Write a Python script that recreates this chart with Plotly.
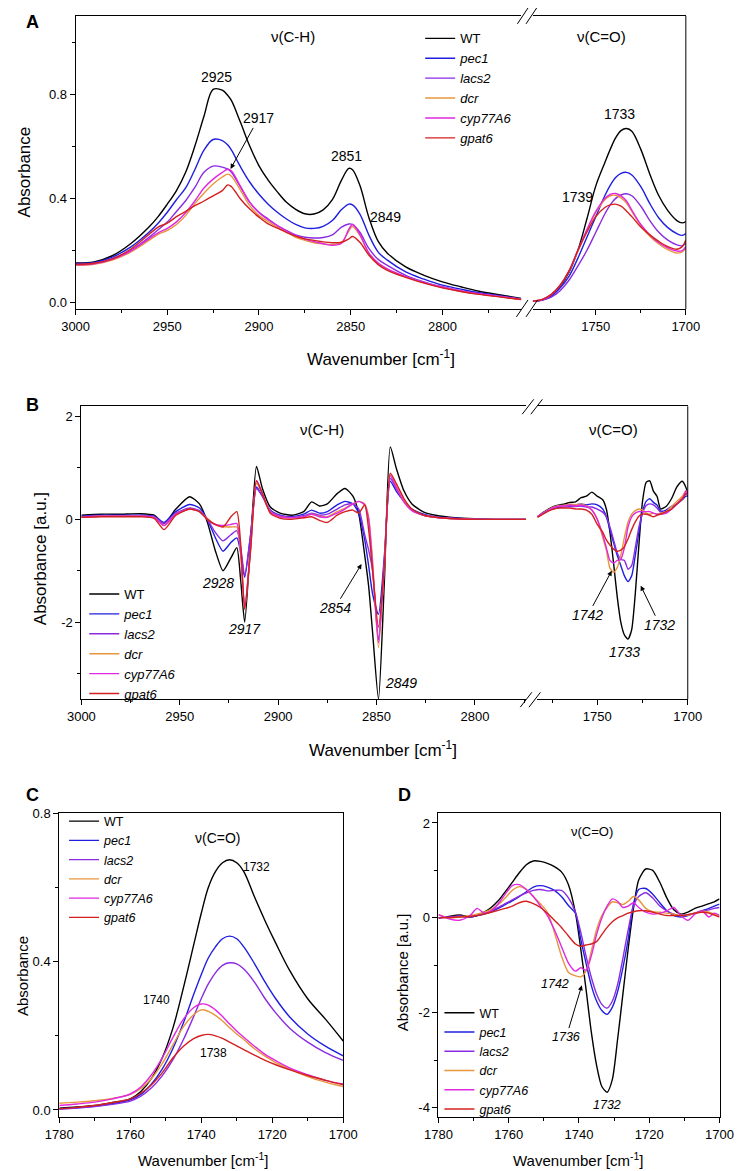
import plotly.graph_objects as go

W, H = 747, 1171
FONT = "Arial, 'Liberation Sans', sans-serif"

GENOTYPES = ["WT", "pec1", "lacs2", "dcr", "cyp77A6", "gpat6"]
LEGEND_LABELS = ["WT", "<i>pec1</i>", "<i>lacs2</i>", "<i>dcr</i>", "<i>cyp77A6</i>", "<i>gpat6</i>"]
COLORS = ["#000000", "#1f1fe0", "#8a2be2", "#e8963c", "#e028e0", "#d42020"]

# ---------------- Panel A : absorbance, C-H region ----------------
A_CH_X = [3000, 2990, 2980, 2970, 2960, 2955, 2950, 2945, 2940, 2935,
          2930, 2925, 2920, 2917, 2915, 2910, 2905, 2900, 2895, 2890,
          2885, 2880, 2875, 2870, 2865, 2860, 2855, 2851, 2849, 2845,
          2840, 2835, 2830, 2820, 2810, 2800, 2790, 2780, 2770, 2757]
A_CH_WT = [0.152, 0.156, 0.18, 0.226, 0.29, 0.33, 0.378, 0.43, 0.5, 0.6,
           0.715, 0.818, 0.815, 0.795, 0.775, 0.69, 0.6, 0.525, 0.47, 0.425,
           0.385, 0.358, 0.341, 0.34, 0.356, 0.395, 0.47, 0.515, 0.51, 0.45,
           0.325, 0.235, 0.19, 0.137, 0.105, 0.08, 0.061, 0.044, 0.032, 0.016]
A_CH_PEC1 = [0.15, 0.154, 0.175, 0.213, 0.27, 0.305, 0.347, 0.395, 0.44, 0.51,
             0.585, 0.626, 0.622, 0.605, 0.585, 0.52, 0.462, 0.416, 0.378, 0.347,
             0.321, 0.30, 0.287, 0.285, 0.293, 0.315, 0.357, 0.378, 0.375, 0.34,
             0.258, 0.194, 0.163, 0.118, 0.09, 0.067, 0.052, 0.038, 0.028, 0.014]
A_CH_LACS2 = [0.147, 0.151, 0.169, 0.2, 0.251, 0.28, 0.309, 0.35, 0.391, 0.442,
              0.50, 0.524, 0.52, 0.512, 0.5, 0.442, 0.385, 0.347, 0.321, 0.296,
              0.277, 0.26, 0.251, 0.248, 0.25, 0.26, 0.29, 0.302, 0.30, 0.27,
              0.207, 0.166, 0.143, 0.105, 0.08, 0.061, 0.046, 0.034, 0.025, 0.013]
A_CH_DCR = [0.143, 0.147, 0.163, 0.194, 0.239, 0.262, 0.277, 0.30, 0.334, 0.38,
            0.42, 0.455, 0.482, 0.493, 0.485, 0.43, 0.372, 0.334, 0.311, 0.29,
            0.27, 0.251, 0.239, 0.23, 0.226, 0.223, 0.232, 0.275, 0.292, 0.258,
            0.188, 0.15, 0.128, 0.099, 0.076, 0.058, 0.044, 0.033, 0.024, 0.012]
A_CH_CYP = [0.145, 0.149, 0.166, 0.198, 0.245, 0.268, 0.285, 0.31, 0.345, 0.39,
            0.44, 0.474, 0.5, 0.512, 0.505, 0.445, 0.385, 0.345, 0.318, 0.295,
            0.275, 0.257, 0.244, 0.234, 0.226, 0.22, 0.228, 0.282, 0.30, 0.262,
            0.19, 0.152, 0.13, 0.1, 0.077, 0.059, 0.045, 0.034, 0.025, 0.013]
A_CH_GPAT6 = [0.147, 0.151, 0.168, 0.205, 0.262, 0.29, 0.305, 0.33, 0.35, 0.372,
              0.39, 0.41, 0.43, 0.452, 0.445, 0.397, 0.359, 0.328, 0.302, 0.286,
              0.27, 0.255, 0.245, 0.239, 0.233, 0.23, 0.232, 0.245, 0.254, 0.232,
              0.182, 0.146, 0.124, 0.097, 0.075, 0.057, 0.043, 0.032, 0.023, 0.012]

# ---------------- Panel A : absorbance, C=O region ----------------
A_CO_X = [1785, 1780, 1775, 1770, 1765, 1760, 1755, 1750, 1745, 1742,
          1739, 1736, 1733, 1730, 1725, 1720, 1715, 1710, 1705, 1702, 1700]
A_CO_WT = [0.005, 0.01, 0.025, 0.06, 0.115, 0.2, 0.32, 0.448, 0.537, 0.588,
           0.632, 0.66, 0.668, 0.658, 0.588, 0.493, 0.41, 0.353, 0.315, 0.306, 0.311]
A_CO_PEC1 = [0.005, 0.01, 0.024, 0.055, 0.1, 0.17, 0.25, 0.33, 0.41, 0.45,
             0.48, 0.496, 0.5, 0.49, 0.445, 0.38, 0.325, 0.288, 0.265, 0.258, 0.265]
A_CO_LACS2 = [0.005, 0.009, 0.02, 0.045, 0.085, 0.14, 0.2, 0.27, 0.34, 0.375,
              0.4, 0.413, 0.418, 0.41, 0.37, 0.315, 0.27, 0.24, 0.222, 0.218, 0.228]
A_CO_DCR = [0.006, 0.012, 0.03, 0.065, 0.12, 0.195, 0.275, 0.345, 0.395, 0.41,
            0.412, 0.402, 0.382, 0.35, 0.295, 0.255, 0.225, 0.203, 0.19, 0.195, 0.21]
A_CO_CYP = [0.006, 0.012, 0.03, 0.065, 0.12, 0.2, 0.28, 0.35, 0.4, 0.415,
            0.419, 0.41, 0.39, 0.355, 0.3, 0.26, 0.23, 0.21, 0.198, 0.2, 0.215]
A_CO_GPAT6 = [0.006, 0.012, 0.03, 0.065, 0.12, 0.2, 0.27, 0.33, 0.365, 0.375,
              0.378, 0.37, 0.352, 0.33, 0.29, 0.26, 0.235, 0.215, 0.205, 0.215, 0.24]

# ---------------- Panel B : 2nd derivative, C-H region ----------------
B_CH_X = [3000, 2990, 2980, 2970, 2963, 2958, 2952, 2945, 2940, 2936,
          2932, 2928, 2924, 2921, 2919, 2917, 2914, 2911, 2908, 2904,
          2899, 2893, 2887, 2883, 2879, 2875, 2870, 2866, 2862, 2859,
          2856, 2854, 2852, 2849, 2846, 2843, 2840, 2836, 2832, 2826,
          2820, 2810, 2800, 2790, 2774]
B_CH_WT = [0.08, 0.1, 0.1, 0.11, 0.08, -0.08, 0.2, 0.44, 0.3, -0.05,
           -0.6, -1.0, -0.75, -0.55, -1.2, -2.0, -0.45, 1.03, 0.6, 0.24,
           0.12, 0.08, 0.15, 0.34, 0.26, 0.3, 0.5, 0.6, 0.45, 0.1,
           -0.7, -1.3, -2.2, -3.5, -1.2, 1.41, 1.0, 0.55, 0.3, 0.14,
           0.08, 0.03, 0.01, 0.0, 0.0]
B_CH_PEC1 = [0.06, 0.08, 0.08, 0.08, 0.06, -0.06, 0.15, 0.29, 0.22, 0.0,
             -0.35, -0.62, -0.45, -0.36, -0.65, -1.13, -0.3, 0.63, 0.45, 0.18,
             0.08, 0.05, 0.1, 0.18, 0.12, 0.15, 0.28, 0.35, 0.3, 0.12,
             -0.4, -0.9, -1.45, -1.85, -0.7, 0.74, 0.55, 0.35, 0.2, 0.1,
             0.05, 0.02, 0.005, 0.0, 0.0]
B_CH_LACS2 = [0.05, 0.07, 0.07, 0.07, 0.05, -0.08, 0.12, 0.22, 0.17, 0.0,
              -0.25, -0.42, -0.3, -0.22, -0.55, -1.1, -0.3, 0.6, 0.45, 0.16,
              0.07, 0.04, 0.07, 0.12, 0.08, 0.1, 0.2, 0.28, 0.3, 0.2,
              -0.3, -0.6, -1.0, -2.35, -0.8, 0.8, 0.6, 0.35, 0.18, 0.08,
              0.04, 0.015, 0.005, 0.0, 0.0]
B_CH_DCR = [0.04, 0.06, 0.06, 0.06, 0.04, -0.12, 0.1, 0.2, 0.15, 0.02,
            -0.1, -0.14, -0.15, -0.15, -0.7, -1.75, -0.6, 0.7, 0.5, 0.15,
            0.05, 0.03, 0.05, 0.1, 0.06, 0.05, 0.15, 0.22, 0.3, 0.35,
            0.3, 0.05, -0.8, -2.5, -0.9, 0.88, 0.65, 0.35, 0.18, 0.08,
            0.04, 0.01, 0.0, 0.0, 0.0]
B_CH_CYP = [0.04, 0.06, 0.06, 0.06, 0.04, -0.12, 0.1, 0.2, 0.15, 0.0,
            -0.1, -0.12, -0.1, -0.08, -0.65, -1.72, -0.55, 0.75, 0.5, 0.15,
            0.05, 0.03, 0.05, 0.1, 0.05, 0.04, 0.12, 0.2, 0.3, 0.35,
            0.28, 0.0, -0.9, -2.4, -0.9, 0.85, 0.62, 0.33, 0.17, 0.08,
            0.04, 0.01, 0.0, 0.0, 0.0]
B_CH_GPAT6 = [0.04, 0.05, 0.05, 0.05, 0.02, -0.2, 0.08, 0.2, 0.15, 0.0,
              -0.1, -0.15, 0.05, 0.15, -0.5, -1.75, -0.6, 0.75, 0.5, 0.12,
              0.02, 0.0, 0.03, 0.05, -0.02, -0.06, 0.08, 0.15, 0.18, 0.12,
              0.28, -0.2, -1.0, -2.1, -0.9, 0.9, 0.7, 0.4, 0.2, 0.08,
              0.04, 0.01, 0.0, 0.0, 0.0]

# ---------------- Panel B : 2nd derivative, C=O region ----------------
B_CO_X = [1783, 1780, 1777, 1774, 1771, 1768, 1765, 1762, 1759, 1756,
          1753, 1750, 1747, 1745, 1743, 1741, 1739, 1737, 1735, 1733,
          1731, 1729, 1727, 1725, 1723, 1721, 1719, 1717, 1715, 1712,
          1709, 1706, 1703, 1701, 1700]
B_CO_WT = [0.05, 0.13, 0.2, 0.25, 0.28, 0.3, 0.33, 0.34, 0.42, 0.45,
           0.53, 0.45, 0.38, 0.2, -0.25, -0.85, -1.5, -2.0, -2.25, -2.33,
           -2.15, -1.45, -0.5, 0.35, 0.72, 0.75, 0.55, 0.45, 0.2, 0.25,
           0.4, 0.63, 0.74, 0.62, 0.5]
B_CO_PEC1 = [0.05, 0.12, 0.18, 0.23, 0.26, 0.27, 0.28, 0.28, 0.3, 0.28,
             0.3, 0.28, 0.2, 0.05, -0.2, -0.45, -0.7, -0.9, -1.1, -1.21,
             -1.1, -0.7, -0.25, 0.15, 0.35, 0.4, 0.33, 0.28, 0.16, 0.18,
             0.25, 0.3, 0.38, 0.45, 0.45]
B_CO_LACS2 = [0.05, 0.11, 0.17, 0.21, 0.23, 0.24, 0.25, 0.25, 0.26, 0.24,
              0.24, 0.2, 0.14, 0.05, -0.15, -0.4, -0.65, -0.78, -0.8, -0.97,
              -0.9, -0.55, -0.15, 0.12, 0.27, 0.3, 0.28, 0.22, 0.14, 0.12,
              0.2, 0.3, 0.4, 0.5, 0.45]
B_CO_DCR = [0.05, 0.12, 0.19, 0.24, 0.27, 0.27, 0.3, 0.28, 0.3, 0.26,
            0.18, 0.0, -0.35, -0.6, -0.95, -1.03, -0.94, -0.7, -0.35, -0.05,
            0.1, 0.17, 0.2, 0.18, 0.12, 0.1, 0.12, 0.1, 0.12, 0.15,
            0.25, 0.35, 0.45, 0.55, 0.5]
B_CO_CYP = [0.05, 0.12, 0.18, 0.23, 0.26, 0.26, 0.28, 0.26, 0.28, 0.25,
            0.18, 0.0, -0.3, -0.55, -0.8, -0.85, -0.8, -0.78, -0.55, -0.15,
            0.05, 0.12, 0.15, 0.15, 0.15, 0.15, 0.12, 0.1, 0.1, 0.12,
            0.2, 0.3, 0.4, 0.55, 0.5]
B_CO_GPAT6 = [0.04, 0.1, 0.16, 0.2, 0.22, 0.22, 0.22, 0.2, 0.2, 0.18,
              0.1, -0.1, -0.25, -0.4, -0.5, -0.58, -0.62, -0.6, -0.53, -0.38,
              -0.2, -0.05, 0.06, 0.1, 0.1, 0.08, 0.05, 0.08, 0.1, 0.15,
              0.2, 0.3, 0.4, 0.5, 0.5]

# ---------------- Panel C : absorbance, C=O zoom ----------------
C_X = [1780, 1775, 1770, 1765, 1760, 1757, 1754, 1751, 1748, 1745,
       1742, 1740, 1738, 1736, 1734, 1732, 1730, 1728, 1725, 1722,
       1719, 1715, 1710, 1705, 1700]
C_WT = [0.005, 0.008, 0.012, 0.02, 0.03, 0.05, 0.085, 0.14, 0.22, 0.33,
        0.45, 0.53, 0.6, 0.643, 0.667, 0.675, 0.667, 0.643, 0.575, 0.51,
        0.45, 0.375, 0.3, 0.245, 0.186]
C_PEC1 = [0.003, 0.006, 0.01, 0.017, 0.027, 0.042, 0.07, 0.11, 0.165, 0.235,
          0.315, 0.365, 0.41, 0.44, 0.462, 0.469, 0.462, 0.44, 0.395, 0.345,
          0.3, 0.25, 0.205, 0.172, 0.146]
C_LACS2 = [0.002, 0.005, 0.009, 0.015, 0.024, 0.037, 0.06, 0.092, 0.135, 0.19,
           0.255, 0.3, 0.34, 0.37, 0.39, 0.397, 0.394, 0.38, 0.345, 0.3,
           0.262, 0.22, 0.183, 0.155, 0.134]
C_DCR = [0.018, 0.021, 0.025, 0.031, 0.042, 0.058, 0.085, 0.125, 0.175, 0.225,
         0.258, 0.27, 0.266, 0.255, 0.24, 0.222, 0.205, 0.19, 0.165, 0.145,
         0.128, 0.11, 0.09, 0.075, 0.063]
C_CYP = [0.012, 0.016, 0.021, 0.03, 0.043, 0.062, 0.095, 0.14, 0.195, 0.245,
         0.277, 0.286, 0.283, 0.27, 0.252, 0.232, 0.213, 0.196, 0.172, 0.15,
         0.133, 0.113, 0.095, 0.08, 0.07]
C_GPAT6 = [0.003, 0.007, 0.012, 0.02, 0.03, 0.045, 0.068, 0.1, 0.14, 0.172,
           0.193, 0.201, 0.204, 0.2, 0.193, 0.183, 0.173, 0.163, 0.148, 0.134,
           0.122, 0.108, 0.093, 0.08, 0.068]

# ---------------- Panel D : 2nd derivative, C=O zoom ----------------
D_X = [1780, 1777, 1774, 1771, 1769, 1767, 1765, 1763, 1761, 1759,
       1757, 1755, 1753, 1751, 1749, 1747, 1745, 1743, 1741, 1739.5,
       1738, 1736.5, 1735, 1733.5, 1732, 1730.5, 1729, 1727.5, 1726, 1724.5,
       1723, 1721, 1719, 1717, 1715, 1713, 1711, 1709, 1707, 1705,
       1703, 1701.5, 1700]
D_WT = [0.0, 0.03, 0.06, 0.02, 0.05, 0.12, 0.22, 0.36, 0.55, 0.75,
        0.95, 1.12, 1.2, 1.19, 1.15, 1.08, 0.97, 0.7, 0.1, -0.65,
        -1.5, -2.4, -3.1, -3.55, -3.67, -3.4, -2.55, -1.6, -0.65, 0.2,
        0.8, 1.03, 1.0, 0.75, 0.42, 0.17, 0.08, 0.12, 0.2, 0.25,
        0.3, 0.34, 0.4]
D_PEC1 = [0.0, 0.02, 0.03, 0.02, 0.05, 0.08, 0.13, 0.2, 0.28, 0.36,
          0.45, 0.55, 0.65, 0.68, 0.65, 0.58, 0.45, 0.26, 0.1, -0.45,
          -0.95, -1.42, -1.75, -1.95, -2.03, -1.88, -1.55, -1.05, -0.45, 0.3,
          0.6, 0.62, 0.5, 0.32, 0.15, 0.05, 0.02, 0.05, 0.1, 0.15,
          0.2, 0.25, 0.29]
D_LACS2 = [0.0, 0.02, 0.04, 0.02, 0.06, 0.1, 0.15, 0.22, 0.3, 0.38,
           0.46, 0.53, 0.58, 0.6, 0.57, 0.58, 0.58, 0.42, 0.12, -0.3,
           -0.8, -1.25, -1.6, -1.82, -1.9, -1.75, -1.4, -0.85, -0.25, 0.25,
           0.45, 0.53, 0.42, 0.25, 0.15, 0.08, 0.05, 0.07, 0.1, 0.14,
           0.17, 0.2, 0.22]
D_DCR = [0.07, 0.0, 0.02, 0.05, 0.08, 0.12, 0.18, 0.28, 0.42, 0.58,
         0.66, 0.6, 0.45, 0.3, 0.12, -0.3, -0.8, -1.15, -1.22, -1.24,
         -1.12, -0.7, -0.25, 0.05, 0.22, 0.34, 0.32, 0.28, 0.35, 0.45,
         0.38, 0.2, 0.13, 0.12, 0.1, 0.08, 0.05, 0.06, 0.1, 0.14,
         0.12, 0.08, 0.06]
D_CYP = [0.07, -0.02, -0.05, 0.05, 0.2, 0.1, 0.15, 0.3, 0.5, 0.68,
         0.7, 0.6, 0.45, 0.25, 0.05, -0.25, -0.6, -0.95, -1.12, -1.05,
         -1.1, -0.8, -0.35, 0.0, 0.25, 0.4, 0.35, 0.22, 0.25, 0.32,
         0.22, 0.12, 0.08, 0.1, 0.15, 0.22, 0.05, -0.05, 0.08, 0.15,
         0.02, 0.1, 0.05]
D_GPAT6 = [0.0, 0.01, 0.02, 0.03, 0.05, 0.08, 0.12, 0.16, 0.2, 0.25,
           0.32, 0.35, 0.3, 0.22, 0.1, -0.05, -0.2, -0.38, -0.55, -0.6,
           -0.57, -0.55, -0.5, -0.35, -0.2, -0.08, 0.0, 0.05, 0.1, 0.13,
           0.15, 0.15, 0.12, 0.08, 0.05, 0.05, 0.05, 0.07, 0.1, 0.12,
           0.1, 0.06, 0.02]

# ---------------- tick values / labels ----------------
A_CH_TICKS = [3000, 2950, 2900, 2850, 2800]
A_CH_MINOR = [2975, 2925, 2875, 2825, 2775]
CO_TICKS = [1750, 1700]
CO_MINOR = [1775, 1725]
A_Y_TICKS = [0.0, 0.4, 0.8]
A_Y_LABELS = ["0.0", "0.4", "0.8"]
A_Y_MINOR = [0.2, 0.6, 1.0]
B_Y_TICKS = [-2, 0, 2]
B_Y_LABELS = ["-2", "0", "2"]
B_Y_MINOR = [-3, -1, 1]
CD_X_TICKS = [1780, 1760, 1740, 1720, 1700]
CD_X_MINOR = [1770, 1750, 1730, 1710]
C_Y_TICKS = [0.0, 0.4, 0.8]
C_Y_LABELS = ["0.0", "0.4", "0.8"]
C_Y_MINOR = [0.2, 0.6]
D_Y_TICKS = [-4, -2, 0, 2]
D_Y_LABELS = ["-4", "-2", "0", "2"]
D_Y_MINOR = [-3, -1, 1]


def fx(p):
    return p / W


def fy(p):
    return 1 - p / H


A_CH = [A_CH_WT, A_CH_PEC1, A_CH_LACS2, A_CH_DCR, A_CH_CYP, A_CH_GPAT6]
A_CO = [A_CO_WT, A_CO_PEC1, A_CO_LACS2, A_CO_DCR, A_CO_CYP, A_CO_GPAT6]
B_CH = [B_CH_WT, B_CH_PEC1, B_CH_LACS2, B_CH_DCR, B_CH_CYP, B_CH_GPAT6]
B_CO = [B_CO_WT, B_CO_PEC1, B_CO_LACS2, B_CO_DCR, B_CO_CYP, B_CO_GPAT6]
C_Y = [C_WT, C_PEC1, C_LACS2, C_DCR, C_CYP, C_GPAT6]
D_Y = [D_WT, D_PEC1, D_LACS2, D_DCR, D_CYP, D_GPAT6]

fig = go.Figure()
panels = [
    (A_CH_X, A_CH, "x", "y", "legend", 1.0),
    (A_CO_X, A_CO, "x2", "y", None, 1.0),
    (B_CH_X, B_CH, "x3", "y2", "legend2", 0.6),
    (B_CO_X, B_CO, "x4", "y2", None, 0.6),
    (C_X, C_Y, "x5", "y3", "legend3", 1.0),
    (D_X, D_Y, "x6", "y4", "legend4", 0.7),
]
for xs, ys, xa, ya, leg, sm in panels:
    for i, g in enumerate(GENOTYPES):
        fig.add_trace(go.Scatter(
            x=xs, y=ys[i], xaxis=xa, yaxis=ya, mode="lines",
            line=dict(color=COLORS[i], width=1.4, shape="spline", smoothing=sm),
            name=LEGEND_LABELS[i], legend=leg or "legend",
            showlegend=leg is not None, hoverinfo="skip"))

TICKFONT = dict(family=FONT, size=13, color="black")


def xax(domain, rng, anchor, tickvals, minor):
    return dict(domain=domain, range=rng, anchor=anchor, showline=True, mirror=True,
                linecolor="black", linewidth=1, ticks="outside", ticklen=5,
                tickwidth=1, tickcolor="black", showgrid=False, zeroline=False,
                tickmode="array", tickvals=tickvals,
                ticktext=[str(v) for v in tickvals],
                minor=dict(tickvals=minor, ticklen=3, ticks="outside",
                           tickcolor="black", tickwidth=1, showgrid=False),
                tickfont=TICKFONT, fixedrange=True)


def yax(domain, rng, anchor, tickvals, ticktext, minor, mirror):
    return dict(domain=domain, range=rng, anchor=anchor, showline=True, mirror=mirror,
                linecolor="black", linewidth=1, ticks="outside", ticklen=5,
                tickwidth=1, tickcolor="black", showgrid=False, zeroline=False,
                tickmode="array", tickvals=tickvals, ticktext=ticktext,
                minor=dict(tickvals=minor, ticklen=3, ticks="outside",
                           tickcolor="black", tickwidth=1, showgrid=False),
                tickfont=TICKFONT, fixedrange=True)


fig.update_layout(
    xaxis=xax([fx(64), fx(527)], [3000, 2757], "y", A_CH_TICKS, A_CH_MINOR),
    xaxis2=xax([fx(539), fx(698)], [1785, 1700], "y", CO_TICKS, CO_MINOR),
    yaxis=yax([fy(304), fy(9)], [-0.024, 1.1], "x", A_Y_TICKS, A_Y_LABELS, A_Y_MINOR, False),
    xaxis3=xax([fx(70), fx(532)], [3000, 2774], "y2", A_CH_TICKS, A_CH_MINOR),
    xaxis4=xax([fx(543), fx(700)], [1783.5, 1700], "y2", CO_TICKS, CO_MINOR),
    yaxis2=yax([fy(697), fy(402)], [-3.5, 2.2], "x3", B_Y_TICKS, B_Y_LABELS, B_Y_MINOR, False),
    xaxis5=xax([fx(47), fx(342)], [1780, 1700], "y3", CD_X_TICKS, CD_X_MINOR),
    yaxis3=yax([fy(1118), fy(812)], [-0.02, 0.8], "x5", C_Y_TICKS, C_Y_LABELS, C_Y_MINOR, True),
    xaxis6=xax([fx(441), fx(733)], [1780, 1700], "y4", CD_X_TICKS, CD_X_MINOR),
    yaxis4=yax([fy(1118), fy(812)], [-4.2, 2.2], "x6", D_Y_TICKS, D_Y_LABELS, D_Y_MINOR, True),
)


def legend_at(left, top, size):
    return dict(x=fx(left), y=fy(top), xanchor="left", yanchor="top",
                bgcolor="rgba(0,0,0,0)", borderwidth=0, tracegroupgap=0,
                font=dict(family=FONT, size=size, color="black"), itemwidth=30)


fig.update_layout(
    legend=legend_at(422, 16.5, 13),
    legend2=legend_at(73, 576, 13),
    legend3=legend_at(52, 805, 12.5),
    legend4=legend_at(442, 998, 12.5),
)

# frame pieces and axis-break marks
LINE = dict(color="black", width=1)
shapes = [
    dict(type="line", xref="x2 domain", yref="y domain", x0=1, x1=1, y0=0, y1=1, line=LINE),
    dict(type="line", xref="x4 domain", yref="y2 domain", x0=1, x1=1, y0=0, y1=1, line=LINE),
]
for (x0, y0, x1, y1) in [(522, 312, 534, 295), (532, 312, 544, 295),
                         (523, 17, 534, 1), (532, 17, 543, 1),
                         (526, 705, 538, 690), (535, 705, 547, 690),
                         (528, 410, 540, 395), (537, 410, 549, 395)]:
    shapes.append(dict(type="line", xref="paper", yref="paper",
                       x0=fx(x0), y0=fy(y0), x1=fx(x1), y1=fy(y1), line=LINE))

ann = []


def text(t, x, y, xref, yref, size=13, **kw):
    ann.append(dict(text=t, x=x, y=y, xref=xref, yref=yref, showarrow=False,
                    xanchor="center", yanchor="middle",
                    font=dict(family=FONT, size=size, color="black"), **kw))


def arrow_label(t, hx, hy, tx, ty, xref, yref, size):
    # label centred at (tx, ty), arrow pointing to (hx, hy)
    ann.append(dict(text=t, x=hx, y=hy, ax=tx, ay=ty, xref=xref, yref=yref,
                    axref=xref, ayref=yref, showarrow=True, arrowhead=2,
                    arrowsize=1, arrowwidth=1, arrowcolor="black", standoff=0,
                    font=dict(family=FONT, size=size, color="black")))


# panel letters
for letter, (lx, ly) in zip("ABCD", [(19, 15.5), (19, 401), (19.5, 793), (406, 793)]):
    text("<b>%s</b>" % letter, fx(lx), fy(ly), "paper", "paper", size=18)

# axis titles
XT = "Wavenumber [cm<sup>-1</sup>]"
text(XT, fx(381), fy(353), "paper", "paper", size=17)
text(XT, fx(383), fy(747), "paper", "paper", size=17)
text(XT, fx(197), fy(1160), "paper", "paper", size=15)
text(XT, fx(587), fy(1160), "paper", "paper", size=15)
text("Absorbance", fx(11), fy(166), "paper", "paper", size=17, textangle=-90)
text("Absorbance [a.u.]", fx(27), fy(555), "paper", "paper", size=17, textangle=-90)
text("Absorbance", fx(9), fy(976), "paper", "paper", size=15, textangle=-90)
text("Absorbance [a.u.]", fx(404), fy(972), "paper", "paper", size=15, textangle=-90)

# panel A labels
text("\u03bd(C-H)", 2881.4, 1.02, "x", "y", size=15)
text("\u03bd(C=O)", 1747, 1.02, "x2", "y", size=15)
text("2925", 2923.4, 0.864, "x", "y", size=14)
arrow_label("2917", 2915.5, 0.513, 2900.3, 0.707, "x", "y", 14)
text("2851", 2852.5, 0.563, "x", "y", size=14)
text("2849", 2831, 0.33, "x", "y", size=14)
text("1733", 1736.9, 0.723, "x2", "y", size=14)
text("1739", 1759.9, 0.406, "x2", "y", size=14)

# panel B labels
text("\u03bd(C-H)", 2877.7, 1.75, "x3", "y2", size=15)
text("\u03bd(C=O)", 1741, 1.75, "x4", "y2", size=15)
text("<i>2928</i>", 2930.5, -1.23, "x3", "y2", size=14)
text("<i>2917</i>", 2917.3, -2.13, "x3", "y2", size=14)
arrow_label("<i>2854</i>", 2857.6, -0.87, 2871.3, -1.73, "x3", "y2", 14)
text("<i>2849</i>", 2837.6, -3.19, "x3", "y2", size=14)
arrow_label("<i>1742</i>", 1742, -1.0, 1755.3, -1.87, "x4", "y2", 14)
arrow_label("<i>1732</i>", 1726, -1.29, 1715.4, -2.06, "x4", "y2", 14)
text("<i>1733</i>", 1735.1, -2.58, "x4", "y2", size=14)

# panel C labels
text("\u03bd(C=O)", 1735.3, 0.733, "x5", "y3", size=14)
text("1732", 1724.4, 0.655, "x5", "y3", size=12)
text("1740", 1752.6, 0.296, "x5", "y3", size=12)
text("1738", 1736.6, 0.154, "x5", "y3", size=12)

# panel D labels
text("\u03bd(C=O)", 1736.4, 1.82, "x6", "y4", size=13)
text("<i>1742</i>", 1746.9, -1.39, "x6", "y4", size=12.5)
arrow_label("<i>1736</i>", 1739.2, -1.42, 1743.6, -2.5, "x6", "y4", 12.5)
text("<i>1732</i>", 1731.9, -3.93, "x6", "y4", size=12.5)

fig.update_layout(
    width=W, height=H, autosize=False,
    margin=dict(l=0, r=0, t=0, b=0),
    paper_bgcolor="white", plot_bgcolor="white",
    font=dict(family=FONT, color="black"),
    showlegend=True, shapes=shapes, annotations=ann,
)

fig.write_html(
    "out.html",
    config={"displayModeBar": False, "staticPlot": False},
    post_script="document.body.style.margin='0px';document.body.style.padding='0px';"
                "document.documentElement.style.overflow='hidden';",
)
